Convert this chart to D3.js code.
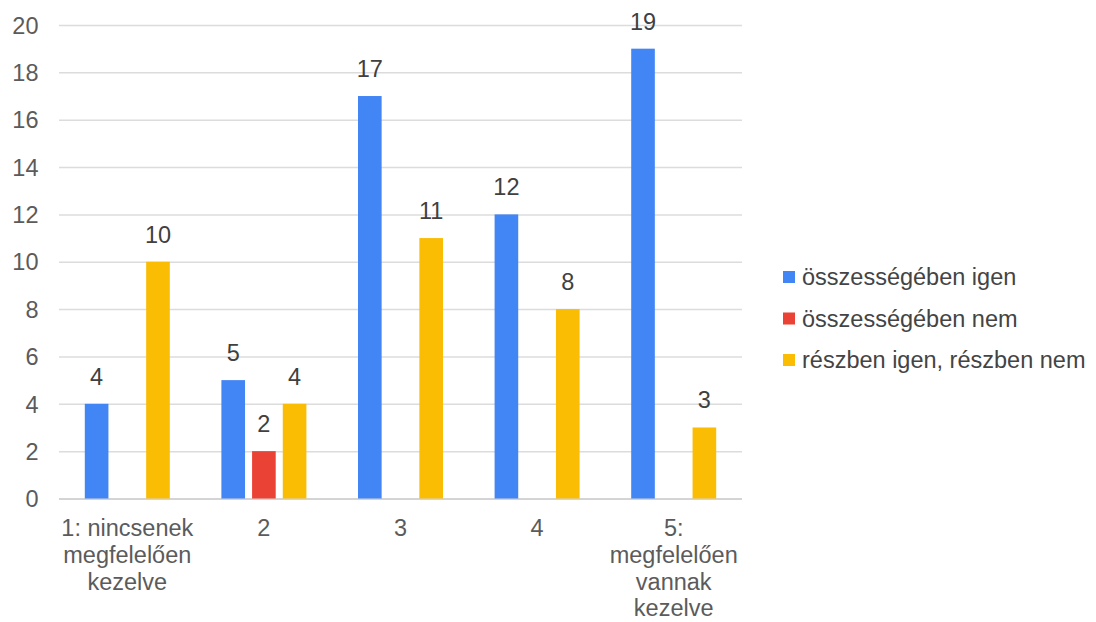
<!DOCTYPE html>
<html>
<head>
<meta charset="utf-8">
<script src="https://cdn.jsdelivr.net/npm/d3@7"></script>
<style>
  html, body { margin: 0; padding: 0; background: #fff; }
  svg { display: block; font-family: "Liberation Sans", Arial, sans-serif; }
</style>
</head>
<body>
<svg id="chart" width="1096" height="622"></svg>
<script>
// Ratings on a 1–5 scale, answers grouped by response type
const categories = [
  "1: nincsenek megfelelően kezelve",
  "2",
  "3",
  "4",
  "5: megfelelően vannak kezelve"
];
const seriesNames = ["összességében igen", "összességében nem", "részben igen, részben nem"];
const seriesColors = ["#4285F4", "#EA4335", "#FBBC04"];
const valuesIgen   = [4, 5, 17, 12, 19];
const valuesNem    = [null, 2, null, null, null];
const valuesReszben = [10, 4, 11, 8, 3];
const yTicks = [0, 2, 4, 6, 8, 10, 12, 14, 16, 18, 20];

const seriesValues = [valuesIgen, valuesNem, valuesReszben];

const FONT = "23.5px";
const svg = d3.select("#chart");
const plot = { left: 59, right: 742, top: 25, bottom: 498.5 };

const x0 = d3.scaleBand().domain(categories).range([plot.left, plot.right]);
const x1 = d3.scaleBand().domain(d3.range(seriesNames.length)).range([-42.5, 42.5]).paddingInner(0.23);
const y = d3.scaleLinear().domain([0, 20]).range([plot.bottom, plot.top]);

// Horizontal gridlines and y tick labels
const yAxis = d3.axisLeft(y).tickValues(yTicks).tickSize(0).tickPadding(0);
const gy = svg.append("g").attr("transform", `translate(${plot.left},0)`).call(yAxis);
gy.select(".domain").remove();
gy.selectAll(".tick line")
  .attr("x2", plot.right - plot.left)
  .attr("stroke", d => d === 0 ? "#c6c6c6" : "#dcdcdc")
  .attr("stroke-width", 1.5);
gy.selectAll(".tick text")
  .attr("x", 38.5 - plot.left)
  .attr("dy", "0.35em")
  .attr("fill", "#5b5b5b")
  .style("font-size", FONT)
  .style("font-family", "'Liberation Sans', Arial, sans-serif");

// Bars
const groups = svg.append("g").selectAll("g")
  .data(categories)
  .join("g")
  .attr("transform", d => `translate(${x0(d) + x0.bandwidth() / 2},0)`);

const barData = (c, i) => seriesValues.map((vals, s) => ({ s, v: vals[i] })).filter(d => d.v != null);

groups.each(function (c, i) {
  const g = d3.select(this);
  const items = barData(c, i);
  g.selectAll("rect")
    .data(items)
    .join("rect")
    .attr("x", d => x1(d.s))
    .attr("width", x1.bandwidth())
    .attr("y", d => y(d.v))
    .attr("height", d => y(0) - y(d.v))
    .attr("fill", d => seriesColors[d.s]);
  g.selectAll("text.val")
    .data(items)
    .join("text")
    .attr("class", "val")
    .attr("x", d => x1(d.s) + x1.bandwidth() / 2)
    .attr("y", d => y(d.v) - 19)
    .attr("text-anchor", "middle")
    .attr("fill", "#404040")
    .style("font-size", FONT)
    .text(d => d.v);
});

// Category labels, wrapped to the group width
const xAxis = d3.axisBottom(x0).tickSize(0).tickPadding(0);
const gx = svg.append("g").attr("transform", `translate(0,${plot.bottom})`).call(xAxis);
gx.select(".domain").remove();
gx.selectAll(".tick text")
  .attr("fill", "#5b5b5b")
  .style("font-size", FONT)
  .style("font-family", "'Liberation Sans', Arial, sans-serif")
  .each(function (d) {
    const t = d3.select(this);
    const words = d.split(" ");
    t.text(null);
    const maxW = 138;
    let lines = [];
    let line = [];
    const probe = t.append("tspan");
    words.forEach(w => {
      const test = line.concat(w).join(" ");
      probe.text(test);
      if (line.length && probe.node().getComputedTextLength() > maxW) {
        lines.push(line.join(" "));
        line = [w];
      } else {
        line.push(w);
      }
    });
    lines.push(line.join(" "));
    probe.remove();
    t.attr("y", 0).attr("dy", null);
    lines.forEach((l, k) => {
      t.append("tspan").attr("x", 0).attr("y", 37.5 + k * 26.8).text(l);
    });
  });

// Legend
const legend = svg.append("g").attr("transform", "translate(783,277)");
const li = legend.selectAll("g").data(seriesNames).join("g")
  .attr("transform", (d, i) => `translate(0,${i * 41.5})`);
li.append("rect").attr("x", 0).attr("y", -6).attr("width", 12).attr("height", 12)
  .attr("fill", (d, i) => seriesColors[i]);
li.append("text").attr("x", 19).attr("dy", "0.35em")
  .attr("fill", "#444")
  .style("font-size", FONT)
  .text(d => d);
</script>
</body>
</html>
